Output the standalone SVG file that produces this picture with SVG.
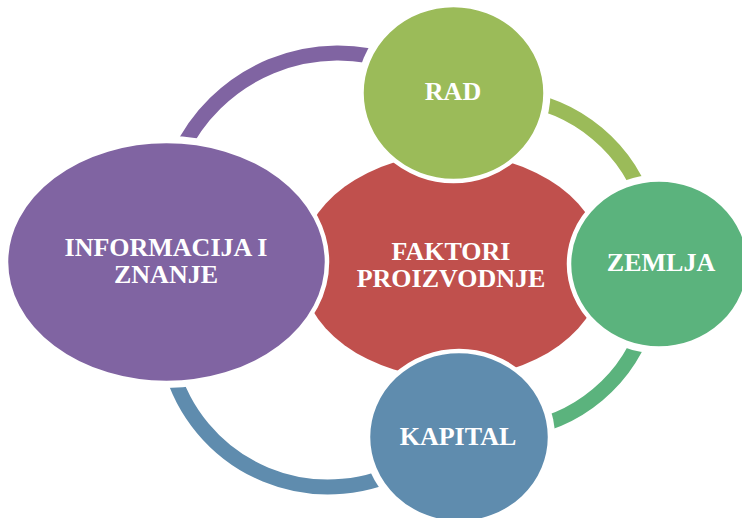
<svg xmlns="http://www.w3.org/2000/svg" width="742" height="518" viewBox="0 0 742 518">
  <style>
    .node { stroke: #ffffff; stroke-width: 4.5; }
    .arc { fill: none; stroke-width: 15; stroke-linecap: butt; }
    .label { font-family: "Liberation Serif", "Times New Roman", serif; font-weight: bold; font-size: 26px; fill: #ffffff; text-anchor: middle; }
  </style>
  <defs>
    <!-- keeps a small gap between each ring segment and the nodes it joins -->
    <mask id="arcGap" maskUnits="userSpaceOnUse" x="0" y="0" width="742" height="518">
      <rect x="0" y="0" width="742" height="518" fill="#ffffff"/>
      <ellipse cx="166.5" cy="262" rx="165" ry="126" fill="#000000"/>
      <ellipse cx="453.5" cy="93" rx="97" ry="93" fill="#000000"/>
      <ellipse cx="659" cy="264" rx="95" ry="89.5" fill="#000000"/>
      <ellipse cx="459" cy="437" rx="96" ry="91" fill="#000000"/>
    </mask>
  </defs>

  <rect x="0" y="0" width="742" height="518" fill="#ffffff"/>

  <!-- ring segments between the outer nodes -->
  <g id="connectors" mask="url(#arcGap)">
    <path class="arc" stroke="#8064A2" d="M179.4,154 A175,175 0 0 1 398,63.6"/>
    <path class="arc" stroke="#9BBB59" d="M510.6,97.6 A156,156 0 0 1 647.7,212.6"/>
    <path class="arc" stroke="#5BB37D" d="M647.7,316.1 A155,155 0 0 1 511.5,430.4"/>
    <path class="arc" stroke="#5F8CAE" d="M170.6,366.2 A163,163 0 0 0 409.5,465.2"/>
  </g>

  <g id="faktori">
    <ellipse cx="452" cy="266" rx="152" ry="112" fill="#C0504D"/>
    <text class="label" x="451" y="260">FAKTORI</text>
    <text class="label" x="451" y="287">PROIZVODNJE</text>
  </g>

  <g id="informacija">
    <ellipse class="node" cx="166.5" cy="262" rx="160.5" ry="121" fill="#8064A2"/>
    <text class="label" x="166" y="256">INFORMACIJA I</text>
    <text class="label" x="166" y="283">ZNANJE</text>
  </g>

  <g id="rad">
    <ellipse class="node" cx="453.5" cy="93" rx="92" ry="88" fill="#9BBB59"/>
    <text class="label" x="453" y="100">RAD</text>
  </g>

  <g id="zemlja">
    <ellipse class="node" cx="659" cy="264" rx="90" ry="84.5" fill="#5BB37D"/>
    <text class="label" x="661" y="271">ZEMLJA</text>
  </g>

  <g id="kapital">
    <ellipse class="node" cx="459" cy="437" rx="91" ry="86" fill="#5F8CAE"/>
    <text class="label" x="458" y="445">KAPITAL</text>
  </g>
</svg>
